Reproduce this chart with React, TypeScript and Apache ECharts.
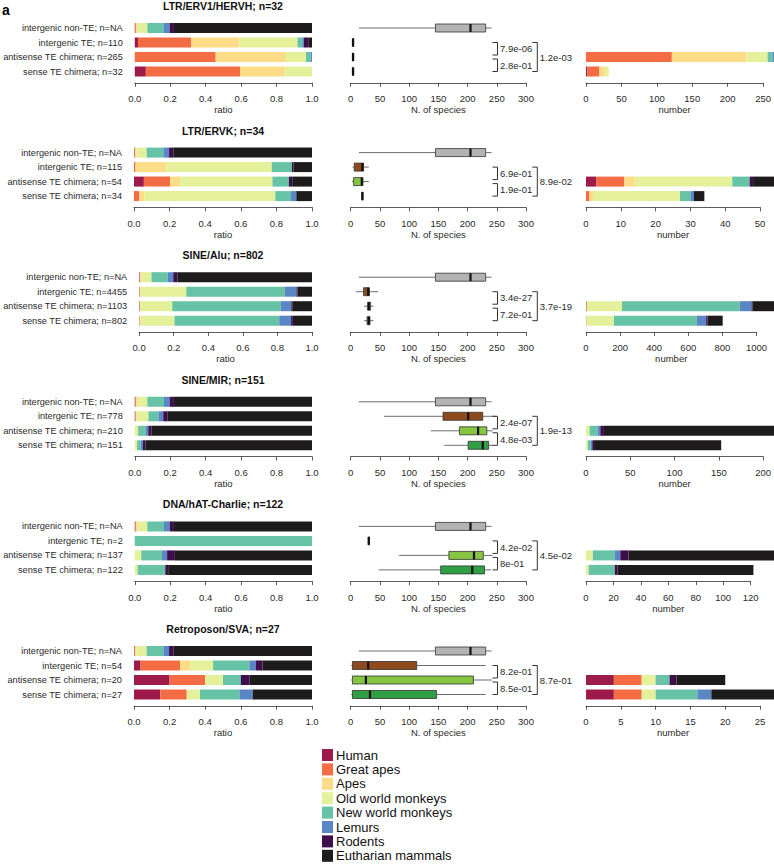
import React, { useEffect, useRef } from "react";
import * as echarts from "echarts";

// Clades, in stacking order, and their colours
const clades = [
  "Human",
  "Great apes",
  "Apes",
  "Old world monkeys",
  "New world monkeys",
  "Lemurs",
  "Rodents",
  "Eutharian mammals",
];
const cladeColors = [
  "#9e1a4a",
  "#f36c43",
  "#fcdc86",
  "#e5f09b",
  "#66c3a5",
  "#5a86c6",
  "#3e0d4c",
  "#1e1b1c",
];

// TE families, one panel each
const families = [
  "LTR/ERV1/HERVH",
  "LTR/ERVK",
  "SINE/Alu",
  "SINE/MIR",
  "DNA/hAT-Charlie",
  "Retroposon/SVA",
];

// Age of origin counts per clade (same order as clades)
const intergenicTeCounts = [
  [2, 33, 30, 36, 3, 1, 3, 2],
  [0, 1, 20, 68, 13, 0, 1, 12],
  [5, 15, 5, 1191, 2540, 298, 27, 374],
  [2, 3, 1, 54, 44, 21, 18, 635],
  [0, 0, 0, 0, 2, 0, 0, 0],
  [2, 12, 3, 7, 11, 2, 2, 15],
];
const antisenseCounts = [
  [0, 121, 105, 30, 7, 2, 0, 0],
  [3, 8, 3, 28, 5, 0, 1, 6],
  [3, 2, 1, 205, 691, 69, 6, 126],
  [0, 0, 0, 4, 9, 3, 4, 190],
  [0, 0, 0, 5, 16, 4, 6, 106],
  [4, 4, 0, 2, 2, 0, 1, 7],
];
const senseCounts = [
  [2, 17, 8, 5, 0, 0, 0, 0],
  [0, 1, 1, 25, 3, 1, 0, 3],
  [1, 2, 2, 159, 486, 55, 8, 89],
  [0, 0, 0, 2, 3, 2, 2, 142],
  [0, 0, 0, 2, 19, 0, 2, 99],
  [4, 4, 0, 2, 6, 2, 0, 9],
];
// Intergenic non-TE genes: ratio per clade (shared by all panels)
const nonTeRatios = [0.003, 0.004, 0.006, 0.058, 0.094, 0.032, 0.024, 0.779];

// N. of species: [min, q1, median, q3, max]
const nonTeSpecies = [14, 145, 205, 231, 241];
const intergenicTeSpecies = [
  [2, 3, 4, 5, 6],
  [3, 6, 20, 22, 31],
  [9, 22, 30, 32, 47],
  [57, 158, 201, 226, 248],
  [30, 30, 31, 32, 32],
  [1, 3, 30, 113, 231],
];
const antisenseSpecies = [
  [2, 3, 4, 5, 6],
  [2, 5, 19, 21, 31],
  [23, 29, 31, 34, 39],
  [137, 186, 218, 233, 243],
  [83, 168, 211, 227, 243],
  [1, 3, 26, 210, 242],
];
const senseSpecies = [
  [2, 3, 4, 5, 6],
  [19, 19, 20, 21, 22],
  [23, 28, 31, 33, 39],
  [160, 201, 226, 236, 244],
  [48, 154, 208, 229, 240],
  [1, 3, 33, 147, 231],
];

// p-values of the pairwise comparisons
const pInterVsAnti = ["7.9e-06", "6.9e-01", "3.4e-27", "2.4e-07", "4.2e-02", "8.2e-01"];
const pAntiVsSense = ["2.8e-01", "1.9e-01", "7.2e-01", "4.8e-03", "8e-01", "8.5e-01"];
const pInterVsSense = ["1.2e-03", "8.9e-02", "3.7e-19", "1.9e-13", "4.5e-02", "8.7e-01"];

// Tick step of the "number" axis in each panel
const countTickStep = [50, 10, 200, 50, 20, 5];

const boxColors = ["#b3b3b3", "#8c4a1d", "#86c441", "#2f9e44"];

const FONT = '"Liberation Sans", Arial, Helvetica, sans-serif';
const TEXT = "#2a2a2a";
const PANEL_Y0 = 6;
const PITCH = 124.6;
const GRID_H = 58;
const RATIO_L = 134;
const RATIO_W = 178;
const SPEC_L = 350.7;
const SPEC_W = 175.3;
const NUM_L = 586;
const NUM_W = 188;
const KEY_X = 322;
const KEY_Y = 749;
const KEY_STEP = 14.4;

const sum = (a: number[]) => a.reduce((s, v) => s + v, 0);

function valueAxis(
  gridIndex: number,
  min: number,
  max: number,
  interval: number,
  name: string,
  formatter?: (v: number) => string
) {
  return {
    type: "value",
    gridIndex,
    min,
    max,
    interval,
    position: "bottom",
    offset: 4,
    axisLine: { show: true, lineStyle: { color: "#333", width: 0.8 } },
    axisTick: { show: true, length: 4, lineStyle: { color: "#333", width: 0.8 } },
    splitLine: { show: false },
    axisLabel: {
      fontSize: 9.5,
      color: TEXT,
      margin: 11,
      fontFamily: FONT,
      formatter: formatter || ((v: number) => String(v)),
    },
    name,
    nameLocation: "middle",
    nameGap: 20,
    nameTextStyle: { fontSize: 9.5, color: TEXT, fontFamily: FONT },
  };
}

function hiddenValueAxis(gridIndex: number, min: number, max: number) {
  return { type: "value", gridIndex, min, max, show: false, splitLine: { show: false } };
}

function categoryAxis(gridIndex: number, labels: string[], show: boolean) {
  return {
    type: "category",
    gridIndex,
    data: labels,
    inverse: true,
    show,
    axisLine: { show: false },
    axisTick: { show: false },
    axisLabel: { show, fontSize: 9.2, color: TEXT, margin: 12, fontFamily: FONT },
  };
}

function buildOption() {
  const grid: any[] = [];
  const xAxis: any[] = [];
  const yAxis: any[] = [];
  const series: any[] = [];
  const graphic: any[] = [
    {
      type: "text",
      x: 2,
      y: 3,
      style: { text: "a", font: `bold 14px ${FONT}`, fill: "#000" },
    },
  ];

  // Colour key
  clades.forEach((clade, c) => {
    graphic.push(
      {
        type: "rect",
        shape: { x: KEY_X, y: KEY_Y + c * KEY_STEP, width: 11, height: 12 },
        style: { fill: cladeColors[c] },
      },
      {
        type: "text",
        x: KEY_X + 14,
        y: KEY_Y + 6 + c * KEY_STEP,
        style: {
          text: clade,
          font: `13px ${FONT}`,
          fill: "#111",
          align: "left",
          verticalAlign: "middle",
        },
      }
    );
  });

  families.forEach((family, i) => {
    const titleY = PANEL_Y0 + i * PITCH;
    const top = titleY + 14.75;
    const inter = intergenicTeCounts[i];
    const anti = antisenseCounts[i];
    const sense = senseCounts[i];
    const nInter = sum(inter);
    const nAnti = sum(anti);
    const nSense = sum(sense);
    const rows = [
      "intergenic non-TE; n=NA",
      `intergenic TE; n=${nInter}`,
      `antisense TE chimera; n=${nAnti}`,
      `sense TE chimera; n=${nSense}`,
    ];
    const maxCount = Math.max(nAnti, nSense);
    const step = countTickStep[i];
    const tickMax = Math.floor(maxCount / step) * step;
    const g = i * 4;

    graphic.push({
      type: "text",
      x: RATIO_L + RATIO_W / 2,
      y: titleY,
      style: {
        text: `${family}; n=${nSense}`,
        font: `bold 10.5px ${FONT}`,
        fill: "#111",
        align: "center",
        verticalAlign: "middle",
      },
    });

    grid.push(
      { left: RATIO_L, top, width: RATIO_W, height: GRID_H },
      { left: SPEC_L, top, width: SPEC_W, height: GRID_H },
      { left: NUM_L, top, width: NUM_W, height: GRID_H },
      { left: NUM_L, top, width: (NUM_W * tickMax) / maxCount, height: GRID_H }
    );
    xAxis.push(
      valueAxis(g, 0, 1, 0.2, "ratio", (v) => v.toFixed(1)),
      valueAxis(g + 1, 0, 300, 50, "N. of species"),
      hiddenValueAxis(g + 2, 0, maxCount),
      valueAxis(g + 3, 0, tickMax, step, "number")
    );
    yAxis.push(
      categoryAxis(g, rows, true),
      categoryAxis(g + 1, rows, false),
      categoryAxis(g + 2, rows, false),
      categoryAxis(g + 3, rows, false)
    );

    // Stacked ratio bars and stacked count bars
    clades.forEach((clade, c) => {
      series.push({
        type: "bar",
        name: clade,
        xAxisIndex: g,
        yAxisIndex: g,
        stack: `ratio${i}`,
        barWidth: 10,
        itemStyle: { color: cladeColors[c] },
        data: [nonTeRatios[c], inter[c] / nInter, anti[c] / nAnti, sense[c] / nSense],
      });
      series.push({
        type: "bar",
        name: clade,
        xAxisIndex: g + 2,
        yAxisIndex: g + 2,
        stack: `count${i}`,
        barWidth: 10,
        itemStyle: { color: cladeColors[c] },
        data: ["-", "-", anti[c], sense[c]],
      });
    });

    // Box plots of the number of species
    series.push({
      type: "custom",
      xAxisIndex: g + 1,
      yAxisIndex: g + 1,
      encode: { x: [1, 2, 3, 4, 5], y: 0 },
      data: [
        [0, ...nonTeSpecies],
        [1, ...intergenicTeSpecies[i]],
        [2, ...antisenseSpecies[i]],
        [3, ...senseSpecies[i]],
      ],
      renderItem: (params: any, api: any) => {
        const row = api.value(0);
        const y = api.coord([0, row])[1];
        const xs = [1, 2, 3, 4, 5].map((k) => api.coord([api.value(k), row])[0]);
        const h = 8;
        return {
          type: "group",
          children: [
            {
              type: "line",
              shape: { x1: xs[0], y1: y, x2: xs[1], y2: y },
              style: { stroke: "#6e6e6e", lineWidth: 1 },
            },
            {
              type: "line",
              shape: { x1: xs[3], y1: y, x2: xs[4], y2: y },
              style: { stroke: "#6e6e6e", lineWidth: 1 },
            },
            {
              type: "rect",
              shape: { x: xs[1], y: y - h / 2, width: Math.max(xs[3] - xs[1], 0.5), height: h },
              style: { fill: boxColors[row], stroke: "#333", lineWidth: 0.8 },
            },
            {
              type: "line",
              shape: { x1: xs[2], y1: y - h / 2, x2: xs[2], y2: y + h / 2 },
              style: { stroke: "#111", lineWidth: 2.2 },
            },
          ],
        };
      },
    });

    // Significance brackets with p-values
    const pLabels = [pInterVsAnti[i], pAntiVsSense[i], pInterVsSense[i]];
    series.push({
      type: "custom",
      xAxisIndex: g + 1,
      yAxisIndex: g + 1,
      clip: false,
      silent: true,
      encode: { x: 2, y: 0 },
      data: [
        [1, 2, 0],
        [2, 3, 0],
        [1, 3, 1],
      ],
      renderItem: (params: any, api: any) => {
        const from = api.value(0);
        const to = api.value(1);
        const level = api.value(2);
        const cs = params.coordSys;
        const right = cs.x + cs.width;
        let y1 = api.coord([0, from])[1];
        let y2 = api.coord([0, to])[1];
        if (level === 0 && from === 1) y2 -= 2;
        if (level === 0 && from === 2) y1 += 2;
        const xv = level === 0 ? right - 28.5 : right + 11.3;
        const tick = 5;
        const stroke = { stroke: "#333", lineWidth: 1 };
        return {
          type: "group",
          children: [
            { type: "line", shape: { x1: xv - tick, y1, x2: xv, y2: y1 }, style: stroke },
            { type: "line", shape: { x1: xv, y1, x2: xv, y2 }, style: stroke },
            { type: "line", shape: { x1: xv - tick, y1: y2, x2: xv, y2 }, style: stroke },
            {
              type: "text",
              x: xv + 2.5,
              y: (y1 + y2) / 2,
              style: {
                text: pLabels[params.dataIndex],
                font: `9.5px ${FONT}`,
                fill: TEXT,
                align: "left",
                verticalAlign: "middle",
              },
            },
          ],
        };
      },
    });
  });

  return {
    animation: false,
    backgroundColor: "#ffffff",
    textStyle: { fontFamily: FONT },
    grid,
    xAxis,
    yAxis,
    series,
    graphic,
  };
}

export default function App() {
  const ref = useRef<HTMLDivElement>(null);
  useEffect(() => {
    if (!ref.current) return;
    const chart = echarts.init(ref.current, null, { renderer: "svg" });
    chart.setOption(buildOption() as any);
    return () => chart.dispose();
  }, []);
  return (
    <div
      ref={ref}
      style={{
        position: "fixed",
        left: 0,
        top: 0,
        width: 774,
        height: 864,
        background: "#fff",
      }}
    />
  );
}
